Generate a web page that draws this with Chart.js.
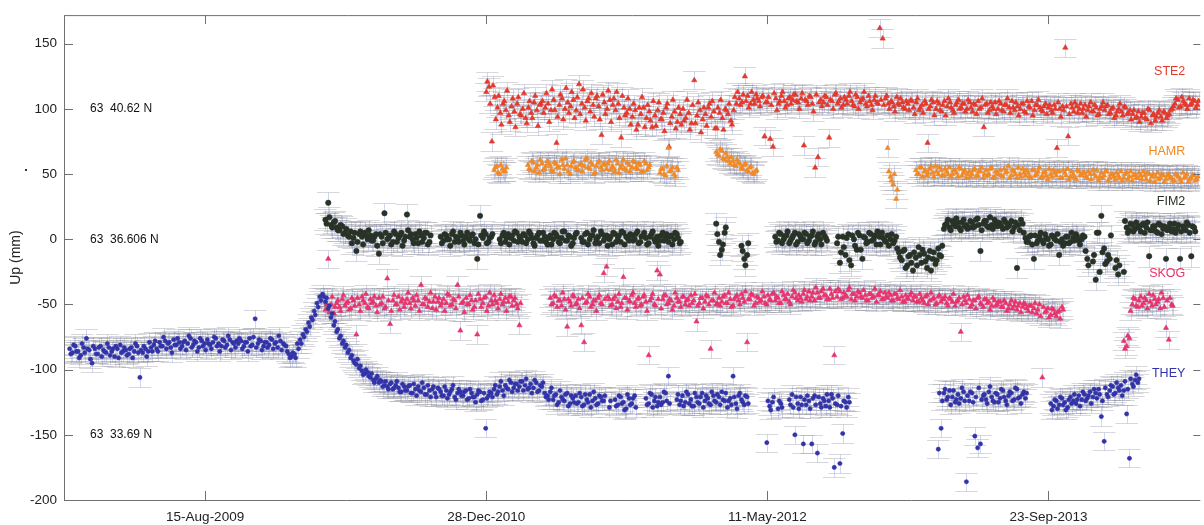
<!DOCTYPE html>
<html>
<head>
<meta charset="utf-8">
<title>GPS vertical time series</title>
<script src="https://cdn.jsdelivr.net/npm/chart.js@4/dist/chart.umd.min.js"></script>
<style>
  html, body { margin: 0; padding: 0; background: #fff; overflow: hidden; }
  #wrap { width: 1204px; height: 525px; position: relative; }
</style>
</head>
<body>
<div id="wrap"><canvas id="gps" width="1204" height="525"></canvas></div>
<script>
// ---- time axis ----
const AXIS_START = '2008-12-07';
const AXIS_END = '2014-06-20';
const xTickDates = ['2009-08-15', '2010-12-28', '2012-05-11', '2013-09-23'];
const yTicks = [-200, -150, -100, -50, 0, 50, 100, 150];
const Y_MIN = -200, Y_MAX = 172;

// each list holds one solution every STEP_DAYS days from its first epoch; null = no solution.
// the "...Mid" lists hold the solutions two days after those in the main list.
const STEP_DAYS = 5;
const gap = n => Array(n).fill(null);

// ---- STE2 (Up, mm) ----
const ste2Start = '2010-12-28', ste2MidStart = '2010-12-30';
const ste2Sigma = 7;
const ste2Up = [
  113,117,75,109,101,97,104,99,95,102,
  98,104,96,100,93,101,97,105,99,103,
  106,101,104,99,107,74,103,108,100,105,
  102,107,99,119,104,101,106,98,103,108,
  102,80,105,100,107,103,99,104,78,101,
  97,100,94,99,88,96,101,93,98,86,
  95,99,92,97,101,71,94,98,90,96,
  100,93,97,89,122,95,99,92,96,101,
  94,98,85,97,93,100,96,91,99,104,
  108,105,125,110,104,107,111,106,109,79,
  105,77,71,108,104,110,106,103,109,107,
  111,105,108,72,106,110,104,55,63,107,
  105,109,78,106,111,104,108,103,107,110,
  106,102,109,105,108,104,110,103,107,105,
  162,154,108,104,106,102,109,103,105,100,
  104,107,101,105,99,103,106,74,102,105,
  100,104,98,106,102,105,99,103,107,101,
  104,100,105,98,103,106,101,86,104,99,
  102,105,100,104,98,103,101,106,99,102,
  100,104,97,102,106,99,103,101,98,104,
  101,99,103,70,100,102,147,79,104,98,
  102,100,97,103,99,105,98,101,96,102,
  99,103,97,101,95,100,98,102,96,99,
  96,93,98,94,97,92,99,95,91,97,
  94,98,93,96,100,104,107,102,106,103,
  108,104,106,103
];
const ste2UpMid = [
  121,104,118,92,110,88,106,114,90,108,
  86,109,95,112,89,106,93,110,87,104,
  97,112,90,115,99,94,111,92,116,97,
  113,93,109,96,115,91,108,112,94,110,
  92,111,96,114,90,108,113,93,110,95,
  108,88,104,84,101,109,86,103,91,106,
  87,105,92,83,104,89,107,85,101,88,
  91,107,84,103,89,105,82,101,87,104,
  106,85,101,107,84,99,104,88,109,113,
  103,111,106,101,113,104,108,102,110,105,
  109,103,112,99,106,113,101,108,104,111,
  106,100,112,107,103,109,98,111,105,102,
  110,103,107,100,112,106,101,109,104,113,
  103,111,100,107,113,102,106,99,110,104,
  107,103,110,100,105,98,104,108,101,106,
  99,106,96,108,101,97,104,100,107,95,
  106,99,103,95,108,101,97,105,100,104,
  98,107,101,104,96,100,108,103,97,105,
  100,96,106,99,103,108,97,101,105,95,
  104,98,106,101,95,103,107,99,102,96,
  103,97,100,105,94,99,102,96,101,105,
  97,104,100,94,102,98,103,95,100,105,
  102,96,100,93,98,104,95,101,97,92,
  99,94,90,97,93,100,89,96,94,99,
  91,97,95,99,102,108,101,109,104,100,
  103,107,101,106
];

// ---- HAMR ----
const hamrStart = '2011-01-11', hamrMidStart = '2011-01-13';
const hamrSigma = 7;
const hamrUp = [
  53,56,50,54,52, ...gap(7),
  57,53,59,55,51,58,54,60,
  56,52,58,55,61,54,57,50,59,55,
  53,58,56,62,54,57,51,59,55,58,
  54,60,56,52,58,55,61,53,57,55,
  59,54,57,52,58,55, ...gap(3),
  51,54,49,70,53,50,55, ...gap(13),
  67,64,68,61,63,58,60,56,59,55,57,53,55,51,52, ...gap(46),
  70,48,42,31, ...gap(6),
  53,50,55,52,49,54,51,56,50,53,
  49,52,55,50,53,48,54,51,47,52,
  50,54,49,52,47,53,50,55,48,51,
  53,48,51,56,49,52,47,50,54,49,
  51,47,53,50,55,48,52,46,50,53,
  49,52,47,51,54,48,50,46,52,49,
  51,47,50,53,48,45,51,49,52,47,
  50,46,49,52,47,51,48,45,50,47,
  49,52,46,50,48,44,51,47,49,46,
  50,47,45,49,46,51,48,44,47,49,46
];
const hamrUpMid = [
  55,51,57,52,55, ...gap(7),
  54,60,52,57,61,53,56,58,
  53,59,55,50,57,62,52,56,60,53,
  57,52,61,55,59,50,56,60,53,57,
  58,53,55,61,51,57,54,59,52,60,
  55,58,52,60,53,57, ...gap(3),
  54,50,56,52,55,48,53, ...gap(13),
  65,69,62,66,60,63,57,61,58,54,58,52,56,50,53, ...gap(46),
  52,45,50,38, ...gap(6),
  50,55,48,53,51,56,48,52,55,49,
  54,50,48,53,51,55,49,53,50,48,
  53,48,52,55,50,49,54,47,52,50,
  49,54,52,47,53,50,55,48,51,53,
  48,53,49,52,47,51,49,54,48,51,
  52,47,53,49,46,52,48,53,49,51,
  48,52,46,50,53,48,47,52,45,50,
  48,51,47,45,50,46,52,49,47,51,
  46,49,51,45,50,48,46,50,44,49,
  47,45,50,48,44,47,50,46,49,45,48
];

// ---- FIM2 ----
const fim2Start = '2010-03-17', fim2MidStart = '2010-03-19';
const fim2Sigma = 8;
const fim2Up = [
  15,28,11,13,9,7,10,5,3,6,
  1,-9,4,2,5,0,3,-1,4,-11,
  2,20,0,3,-2,4,1,5,-1,19,
  2,0,4,-3,3,1,5,-2, ...gap(3),
  2,-1,3,0,4,-2,1,5,-1,
  2,0,3,-3,-15,18,1,4,-2,2, null, null,
  0,3,-2,4,1,-1,5,2,
  -2,3,0,4,-3,1,5,-1,2,-4,
  3,0,4,-2,1,6,-1,2,-3,4, null,
  1,-2,5,0,3,-3,2,6,-1,
  3,0,-4,4,1,-2,5,2,-1,3,
  0,6,-2,3,1,-3,4,0,2,-1,
  5,1,-2,3,0,4,-3, ...gap(12),
  12,-2,-8,5, ...gap(5),
  -5,-15,-12, ...gap(9),
  2,-1,4,0,3,-3,1,5,-2,2,
  0,4,-1,3,-4,2,0,5,1, ...gap(3),
  -3,-18,2,-12,4,-20,0,-8,
  3,-15,1,-2,4,0,-4,2,5,-1,
  3,0,-3,2,-10,-16,-8,-20,-12,-24,
  -14,-6,-18,-11,-22,-9,-15,-19,-7,-13,
  8,12,9,14,10,13,7,15,11,9,
  13,10,16,-9,12,14,9,11,15,10,
  12,8,13,10,14,9,-22,7,12,1,
  -2,3,-15,-3,2,-1,4,0,-4,2,
  -1,-12,0,-3,2,-2,1,4,-1,0,
  2,-15,null,-17,-31,5,18,-7,-17,-15,
  null,-22,-27,null,-25,9,7,11,8,10,
  6,12,9,-13,7,10,5,11,8,-15,
  9,6,12,8,-15,10,7,11,-13,9
];
const fim2UpMid = [
  12,17,9,14,7,11,4,8,2,-3,
  5,-2,6,-4,3,7,-1,2,-5,4,
  -3,5,1,-4,6,-2,3,-5,2,7,
  4,-3,1,6,-2,5,-4,3, ...gap(3),
  -3,4,0,-5,6,2,-2,3,-4,
  5,-1,4,0,-4,3,6,-3,1,4, null, null,
  -3,5,1,-4,3,6,-2,0,
  4,-3,6,1,-5,3,-1,5,-2,1,
  -4,5,2,-3,6,-1,3,-5,1,5, null,
  -2,4,-4,3,7,0,-3,4,1,
  -5,2,5,-2,3,6,-4,1,4,-1,
  4,-3,2,5,-4,2,6,-2,-5,3,
  -1,4,2,-4,5,1,-2, ...gap(12),
  4,-12,-4,9, ...gap(5),
  -9,-20,-3, ...gap(9),
  -2,5,-3,2,6,-1,3,-4,4,0,
  5,-3,2,6,-2,4,-4,3,-1, ...gap(3),
  2,-10,-6,1,-16,3,-5,5,
  -8,2,-3,5,-1,3,6,-4,1,-2,
  -5,4,-1,-7,-14,-9,-22,-13,-18,-10,
  -20,-12,-8,-17,-14,-24,-10,-16,-12,-5,
  11,15,7,12,16,9,13,10,8,14,
  9,15,11,7,14,10,17,8,12,13,
  10,15,9,12,6,13,11,15,5,-2,
  2,-4,3,-1,5,-3,1,-5,3,0,
  4,-2,-5,2,-3,5,-1,2,-4,3,
  -9,-20,null,-12,5,-25,-10,-19,-12,3,
  null,-16,-20,null,14,5,12,6,13,9,
  11,5,13,7,10,6,12,4,10,7,
  12,8,5,11,6,9,13,5,10,6
];

// ---- SKOG ----
const skogStart = '2010-03-17', skogMidStart = '2010-03-19';
const skogSigma = 7;
const skogUp = [
  -54,-15,-50,-57,-49,-52,-46,-51,-48,-53,
  -47,-73,-50,-44,-49,-52,-46,-48,-51,-45,
  -49,-53,-30,-65,-47,-50,-44,-48,-52,-46,
  -49,-45,-51,-47,-35,-50,-46,-48,-53,-44,
  -48,-51,-46,-49,-43,-50,-47,-35,-70,-48,
  -45,-50,-47,-52,-73,-46,-49,-44,-51,-47,
  -43,-49,-46,-50,-45,-48,-44,-47,-50,-66, ...gap(10),
  -45,-49,-44,-47,-51,-46,-67,-48,-43,-50,
  -46,-66,-79,-48,-44,-50,-47,-45,-49,-26,
  -21,-46,-50,-44,-48,-52,-29,-45,-47,-43,
  -49,-46,-51,-44,-48,-89,-45,-50,-24,-27,
  -46,-43,-49,-47,-51,-45,-48,-44,-50,-46,
  -43,-47,-63,-49,-45,-48,-44,-84,-47,-50,
  -45,-48,-43,-49,-46,-51,-44,-47,-42,-48,
  -79,-46,-43,-49,-45,-47,-44,-50,-46,-42,
  -47,-45,-49,-43,-46,-48,-44,-41,-47,-45,
  -42,-46,-40,-44,-47,-41,-45,-38,-43,-46,
  -42,-89,-44,-40,-45,-43,-39,-46,-42,-44,
  -41,-45,-43,-47,-42,-44,-48,-43,-46,-41,
  -45,-43,-47,-42,-46,-44,-48,-45,-43,-47,
  -44,-48,-45,-49,-43,-47,-46,-50,-44,-48,
  -46,-49,-45,-48,-51,-47,-71,-44,-49,-46,
  -50,-47,-45,-49,-52,-46,-48,-51,-47,-50,
  -48,-52,-49,-53,-47,-51,-54,-49,-52,-50,
  -55,-51,-53,-57,-50,-106,-56,-53,-58,-54,
  -59,-55,-52, ...gap(21),
  -78,-82,-76,-50,-46,-52,
  -44,-49,-47,-42,-51,-46,-48,-53,-45,-68,
  -77,-50
];
const skogUpMid = [
  -50,-56,-44,-52,-47,-55,-43,-49,-54,-45,
  -51,-45,-55,-47,-42,-53,-49,-44,-56,-50,
  -44,-52,-47,-55,-43,-50,-54,-46,-49,-41,
  -53,-47,-43,-55,-50,-45,-52,-41,-48,-54,
  -45,-49,-55,-42,-51,-46,-53,-44,-49,-56,
  -50,-43,-54,-47,-42,-52,-45,-55,-41,-50,
  -47,-53,-42,-48,-55,-44,-51,-45,-53,-49, ...gap(10),
  -50,-43,-52,-47,-41,-54,-46,-51,-44,-49,
  -53,-45,-49,-42,-52,-47,-55,-43,-50,-46,
  -44,-51,-46,-53,-42,-49,-45,-54,-48,-41,
  -52,-45,-50,-43,-55,-47,-42,-51,-46,-53,
  -43,-50,-46,-54,-41,-48,-52,-44,-47,-51,
  -49,-42,-51,-45,-53,-43,-50,-47,-41,-49,
  -51,-44,-49,-41,-52,-46,-43,-50,-45,-40,
  -46,-42,-51,-44,-48,-40,-49,-43,-47,-41,
  -44,-49,-40,-46,-42,-50,-39,-45,-43,-48,
  -39,-44,-47,-41,-37,-45,-40,-43,-46,-38,
  -45,-40,-38,-46,-41,-44,-37,-42,-47,-40,
  -44,-39,-47,-42,-45,-38,-43,-40,-46,-44,
  -41,-47,-42,-45,-39,-48,-43,-46,-41,-44,
  -48,-42,-47,-44,-50,-41,-45,-49,-43,-46,
  -44,-51,-46,-42,-48,-45,-50,-47,-43,-52,
  -47,-53,-44,-50,-46,-49,-54,-45,-51,-48,
  -52,-47,-55,-50,-53,-48,-51,-56,-49,-53,
  -51,-56,-49,-54,-59,-52,-55,-60,-53,-57,
  -56,-61,-54, ...gap(21),
  -84,-74,-55,-45,-51,-47,
  -51,-45,-53,-48,-43,-50,-46,-41,-52,-47,
  -45,-51
];

// ---- THEY ----
const theyStart = '2008-12-17', theyMidStart = '2008-12-19';
const theySigma = 7;
const theyUp = [
  -84,-87,-82,-86,-89,-83,-76,-85,-95,-84,
  -88,-82,-85,-87,-83,-86,-90,-84,-81,-86,
  -85,-88,-83,-86,-82,-106,-87,-84,-86,-83,
  -81,-84,-79,-82,-78,-80,-83,-77,-81,-79,
  -82,-78,-80,-76,-81,-79,-83,-78,-80,-77,
  -81,-79,-76,-80,-82,-78,-81,-77,-79,-83,
  -80,-78,-82,-79,-76,-81,-61,-80,-78,-82,
  -79,-81,-77,-80,-83,-78,-80,-82,-88,-90,
  -88,-80,-77,-73,-69,-64,-60,-55,-49,-44,
  -42,-48,-53,-60,-66,-71,-76,-80,-83,-87,
  -91,-93,-96,-99,-101,-103,-102,-106,-108,-107,
  -110,-109,-112,-113,-111,-115,-112,-114,-117,-113,
  -116,-112,-118,-115,-113,-117,-114,-119,-116,-115,
  -118,-114,-117,-120,-116,-119,-115,-121,-118,-117,
  -120,-116,-122,-118,-121,-119,-117,-123,-145,-120,
  -118,-115,-119,-113,-116,-112,-115,-110,-114,-111,
  -113,-109,-112,-115,-111,-114,-110,-116,-113,-118,
  -120,-117,-123,-119,-125,-121,-124,-118,-126,-122,
  -120,-125,-121,-127,-123,-119,-124,-122,-126,-121,
  -124,null,-129,null,-123,-127,-121,-125,-130,-122,
  -126,-120, ...gap(3), -122,-126,-119,-124,-128,
  -121,-125,-118,-105,null,null,-123,-127,-120,-125,
  -119,-123,-128,-121,-126,-118,-124,-122,-127,-120,
  -125,-121,-117,-124,-129,-122,-105,-126,-120,-123,
  -127,-121, ...gap(6), -156,-128,
  -125,null,-130,-126,null,null,-123,-119,-150,-126,
  -121,-157,-127,-124,-157,-120,-164,-126,-122,-128,
  -124,-119,-175,-127,-172,-149,-125,-121, ...gap(31),
  -161,
  -145,-118,-123,-116,-121,-125,-119,-122,-117,-186,
  -124,-118,-151,-160,-157,-120,-123,-117,-121,-125,
  -119,-122,-116,-124,-120,-118,-123,-115,-121,-119,
  -122, ...gap(8), -126,
  -128,-124,-127,-122,-125,-129,-121,-124,-126,-120,
  -123,-119,-122,-117,-121,-118,-115,-136,-155,-119,
  -116,-113,-118,-114,-112,-116,-134,-168,-111,-108,
  -110
];
const theyUpMid = [
  -88,-81,-86,-91,-80,-87,-84,-92,-82,-88,
  -83,-90,-86,-80,-89,-84,-82,-91,-87,-83,
  -89,-84,-91,-80,-87,-85,-82,-90,-79,-86,
  -78,-86,-82,-75,-84,-79,-87,-81,-76,-84,
  -79,-85,-74,-83,-78,-86,-76,-82,-85,-80,
  -84,-75,-82,-86,-77,-83,-74,-85,-80,-78,
  -76,-84,-79,-86,-82,-75,-83,-77,-85,-79,
  -83,-76,-84,-79,-74,-85,-81,-86,-91,-87,
  -91,-84,-80,-75,-71,-67,-62,-58,-52,-47,
  -44,-45,-51,-57,-63,-69,-74,-78,-81,-85,
  -89,-95,-92,-97,-104,-100,-105,-103,-110,-105,
  -108,-113,-109,-115,-110,-114,-109,-117,-111,-116,
  -113,-118,-111,-120,-116,-110,-119,-112,-121,-113,
  -121,-115,-120,-113,-122,-117,-112,-123,-115,-120,
  -117,-123,-115,-121,-125,-116,-124,-118,-122,-117,
  -121,-112,-117,-109,-120,-114,-108,-117,-111,-116,
  -109,-116,-107,-114,-118,-108,-117,-112,-110,-121,
  -123,-114,-120,-127,-116,-123,-119,-128,-120,-125,
  -126,-118,-128,-119,-125,-129,-117,-127,-120,-124,
  -120,null,-124,null,-128,-120,-126,-131,-119,-127,
  -122,-129, ...gap(3), -127,-118,-129,-121,-125,
  -127,-117,-124,-126,null,null,-119,-124,-128,-117,
  -126,-128,-118,-125,-121,-129,-120,-126,-117,-124,
  -119,-127,-123,-118,-124,-127,-121,-130,-118,-125,
  -120,-126, ...gap(6), -124,-131,
  -121,null,-124,-129,null,null,-127,-129,-121,-130,
  -127,-123,-120,-130,-122,-127,-121,-129,-124,-119,
  -129,-122,-126,-120,-128,-124,-129,-125, ...gap(31),
  -118,
  -124,-115,-121,-127,-116,-123,-126,-114,-124,-120,
  -117,-125,-121,-114,-123,-119,-126,-113,-124,-118,
  -125,-115,-121,-127,-117,-124,-114,-122,-126,-117,
  -118, ...gap(8), -131,
  -123,-130,-121,-127,-131,-123,-126,-119,-123,-128,
  -117,-124,-120,-126,-115,-122,-119,-124,-114,-121,
  -112,-119,-110,-116,-120,-109,-115,-107,-113,-104,
  -107
];

// station name labels and latitude notes, placed at Up values (mm)
const stationLabels = [['STE2', 129], ['HAMR', 67], ['FIM2', 29], ['SKOG', -26], ['THEY', -103]];
const latitudeNotes = [['63  40.62 N', 100], ['63  36.606 N', 0], ['63  33.69 N', -150]];

// ---- helpers ----
const DAY_MS = 86400000;
const MONTHS = ['Jan','Feb','Mar','Apr','May','Jun','Jul','Aug','Sep','Oct','Nov','Dec'];
const dayOf = s => Date.UTC(+s.slice(0, 4), +s.slice(5, 7) - 1, +s.slice(8, 10)) / DAY_MS;
const fmtDay = d => {
  const t = new Date(Math.round(d) * DAY_MS);
  return String(t.getUTCDate()).padStart(2, '0') + '-' + MONTHS[t.getUTCMonth()] + '-' + t.getUTCFullYear();
};
const toPoints = (start, values) => {
  const d0 = dayOf(start);
  const pts = [];
  values.forEach((v, k) => { if (v !== null) pts.push({ x: d0 + k * STEP_DAYS, y: v }); });
  return pts;
};
const stationPoints = (start, up, midStart, upMid) =>
  toPoints(start, up).concat(toPoints(midStart, upMid)).sort((a, b) => a.x - b.x);

const FONT = '"Liberation Sans", Arial, Helvetica, sans-serif';
const stationColors = { STE2: '#e3392c', HAMR: '#f08a26', FIM2: '#283226', SKOG: '#e8346b', THEY: '#3333a8' };

const datasets = [
  { label: 'THEY', data: stationPoints(theyStart, theyUp, theyMidStart, theyUpMid), sigma: theySigma, pointStyle: 'circle', pointRadius: 2.1 },
  { label: 'SKOG', data: stationPoints(skogStart, skogUp, skogMidStart, skogUpMid), sigma: skogSigma, pointStyle: 'triangle', pointRadius: 3 },
  { label: 'FIM2', data: stationPoints(fim2Start, fim2Up, fim2MidStart, fim2UpMid), sigma: fim2Sigma, pointStyle: 'circle', pointRadius: 2.7 },
  { label: 'HAMR', data: stationPoints(hamrStart, hamrUp, hamrMidStart, hamrUpMid), sigma: hamrSigma, pointStyle: 'triangle', pointRadius: 3 },
  { label: 'STE2', data: stationPoints(ste2Start, ste2Up, ste2MidStart, ste2UpMid), sigma: ste2Sigma, pointStyle: 'triangle', pointRadius: 3.1 }
].map(ds => Object.assign(ds, {
  backgroundColor: stationColors[ds.label],
  borderColor: stationColors[ds.label],
  borderWidth: 0.6,
  pointHoverRadius: ds.pointRadius
}));

// ±sigma bars (bluish stems, grey wide caps) behind every solution
const CAP_HALF_DAYS = 20;
const errorBars = {
  id: 'errorBars',
  beforeDatasetsDraw(chart) {
    const { ctx, chartArea: a, scales: { x, y } } = chart;
    ctx.save();
    ctx.beginPath();
    ctx.rect(a.left, a.top, a.width, a.height);
    ctx.clip();
    ctx.lineWidth = 1;
    chart.data.datasets.forEach(ds => {
      ds.data.forEach(p => {
        const px = x.getPixelForValue(p.x);
        const hw = x.getPixelForValue(p.x + CAP_HALF_DAYS) - px;
        const yt = Math.round(y.getPixelForValue(p.y + ds.sigma)) + 0.5;
        const yb = Math.round(y.getPixelForValue(p.y - ds.sigma)) + 0.5;
        const xc = Math.round(px) + 0.5;
        ctx.strokeStyle = 'rgba(125,125,140,0.3)';
        ctx.beginPath();
        ctx.moveTo(px - hw, yt); ctx.lineTo(px + hw, yt);
        ctx.moveTo(px - hw, yb); ctx.lineTo(px + hw, yb);
        ctx.stroke();
        ctx.strokeStyle = 'rgba(120,140,205,0.35)';
        ctx.beginPath();
        ctx.moveTo(xc, yt); ctx.lineTo(xc, yb);
        ctx.stroke();
      });
    });
    ctx.restore();
  }
};

// axes box with inward ticks, then the text notes
const frame = {
  id: 'frame',
  afterDraw(chart) {
    const { ctx, chartArea: a, scales: { x, y } } = chart;
    ctx.save();
    ctx.strokeStyle = '#707070';
    ctx.lineWidth = 1;
    ctx.beginPath();
    ctx.moveTo(a.left + 0.5, a.top + 0.5); ctx.lineTo(a.right, a.top + 0.5);
    ctx.moveTo(a.left + 0.5, a.top); ctx.lineTo(a.left + 0.5, a.bottom + 0.5);
    ctx.moveTo(a.left, a.bottom + 0.5); ctx.lineTo(a.right - 6, a.bottom + 0.5);
    y.ticks.forEach(t => {
      const py = Math.round(y.getPixelForValue(t.value)) + 0.5;
      ctx.moveTo(a.left, py); ctx.lineTo(a.left + 9, py);
      ctx.moveTo(a.right - 7, py); ctx.lineTo(a.right, py);
    });
    x.ticks.forEach(t => {
      const px = Math.round(x.getPixelForValue(t.value)) + 0.5;
      ctx.moveTo(px, a.bottom); ctx.lineTo(px, a.bottom - 9);
      ctx.moveTo(px, a.top); ctx.lineTo(px, a.top + 9);
    });
    ctx.stroke();

    ctx.textBaseline = 'middle';
    ctx.font = '12px ' + FONT;
    ctx.fillStyle = '#111';
    ctx.textAlign = 'left';
    latitudeNotes.forEach(([txt, v]) => ctx.fillText(txt, a.left + 26, y.getPixelForValue(v)));

    ctx.font = '12.5px ' + FONT;
    ctx.textAlign = 'right';
    stationLabels.forEach(([name, v]) => {
      ctx.fillStyle = stationColors[name];
      ctx.fillText(name, a.right - 15, y.getPixelForValue(v));
    });

    ctx.fillStyle = '#333';
    ctx.fillRect(25, Math.round(y.getPixelForValue(54)), 2, 2);
    ctx.restore();
  }
};

new Chart(document.getElementById('gps'), {
  type: 'scatter',
  data: { datasets },
  options: {
    responsive: false,
    devicePixelRatio: 1,
    animation: false,
    events: [],
    layout: { padding: { top: 14, right: 0, left: 0, bottom: 0 } },
    plugins: { legend: { display: false }, tooltip: { enabled: false } },
    scales: {
      x: {
        type: 'linear',
        min: dayOf(AXIS_START),
        max: dayOf(AXIS_END),
        grid: { display: false, drawTicks: false },
        border: { display: false },
        afterBuildTicks: s => { s.ticks = xTickDates.map(d => ({ value: dayOf(d) })); },
        afterFit: s => { s.height = 25; },
        ticks: {
          autoSkip: false, maxRotation: 0, padding: 9,
          color: '#222', font: { family: FONT, size: 13.5 },
          callback: v => fmtDay(v)
        }
      },
      y: {
        type: 'linear',
        min: Y_MIN,
        max: Y_MAX,
        grid: { display: false, drawTicks: false },
        border: { display: false },
        afterBuildTicks: s => { s.ticks = yTicks.map(v => ({ value: v })); },
        afterFit: s => { s.width = 64; },
        ticks: { padding: 7, color: '#222', font: { family: FONT, size: 13.5 } },
        title: { display: true, text: 'Up (mm)', color: '#222', font: { family: FONT, size: 14 }, padding: { top: 8, bottom: 0 } }
      }
    }
  },
  plugins: [errorBars, frame]
});
</script>
</body>
</html>
